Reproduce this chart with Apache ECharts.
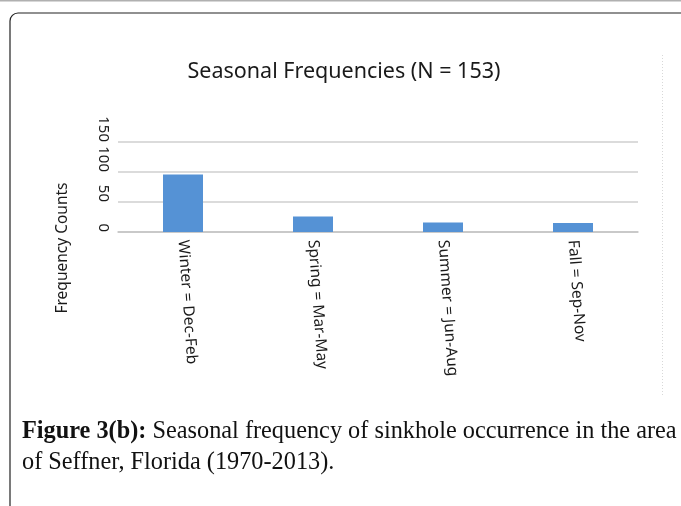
<!DOCTYPE html>
<html>
<head>
<meta charset="utf-8">
<script src="https://cdn.jsdelivr.net/npm/echarts@6/dist/echarts.min.js"></script>
<style>html,body{margin:0;padding:0;background:#fff;}#c{width:681px;height:506px;}</style>
</head>
<body>
<div id="c"></div>
<script>
const categories = ['Winter = Dec-Feb', 'Spring = Mar-May', 'Summer = Jun-Aug', 'Fall = Sep-Nov'];
const counts = [96, 26, 16, 15];
const yTicks = [0, 50, 100, 150];
const titleText = 'Seasonal Frequencies (N = 153)';
const yAxisTitle = 'Frequency Counts';
const captionBold = 'Figure 3(b):';
const captionLine1 = ' Seasonal frequency of sinkhole occurrence in the area';
const captionLine2 = 'of Seffner, Florida (1970-2013).';

const chart = echarts.init(document.getElementById('c'), null, {renderer: 'canvas'});
const sans = 'Noto Sans';
chart.setOption({
  animation: false,
  backgroundColor: '#ffffff',
  title: {
    text: titleText,
    left: 339, top: 56, textAlign: 'center',
    textStyle: {fontFamily: sans, fontSize: 21.5, fontWeight: 'normal', color: '#1a1a1a'}
  },
  grid: {left: 118, right: 43, top: 142, bottom: 274, containLabel: false},
  xAxis: {
    type: 'category',
    data: categories,
    axisLine: {show: true, lineStyle: {color: '#c4c4c4', width: 1.5}},
    axisTick: {show: false},
    axisLabel: {
      interval: 0, rotate: -86, margin: 8, align: 'left', verticalAlign: 'middle',
      fontFamily: sans, fontSize: 15.5, color: '#1a1a1a'
    }
  },
  yAxis: {
    type: 'value',
    min: yTicks[0], max: yTicks[yTicks.length - 1], interval: 50,
    axisLine: {show: false},
    axisTick: {show: false},
    splitLine: {lineStyle: {color: '#cfcfcf', width: 1.5}},
    axisLabel: {
      rotate: -90, margin: 15, align: 'right', verticalAlign: 'middle',
      fontFamily: sans, fontSize: 15, color: '#1a1a1a'
    }
  },
  series: [{
    type: 'bar',
    data: counts,
    barWidth: 40,
    itemStyle: {color: '#5592d5'}
  }],
  graphic: [
    {type: 'line', shape: {x1: 0, y1: 0.5, x2: 681, y2: 0.5}, style: {stroke: '#b0b0b0', lineWidth: 2}},
    {type: 'rect', shape: {x: 10, y: 13, width: 720, height: 560, r: 8}, style: {fill: 'none', stroke: '#222', lineWidth: 1.2}},
    {type: 'line', shape: {x1: 662.5, y1: 55, x2: 662.5, y2: 396}, style: {stroke: '#d8d8d8', lineWidth: 1, lineDash: [1, 2]}},
    {type: 'text', x: 63, y: 248, rotation: Math.PI / 2,
      style: {text: yAxisTitle, fontFamily: sans, fontSize: 15.5, fill: '#1a1a1a', align: 'center', verticalAlign: 'middle'}},
    {type: 'text', x: 22, y: 416,
      style: {text: '{b|' + captionBold + '}' + captionLine1 + '\n' + captionLine2,
        fontFamily: 'Liberation Serif', fontSize: 24.3, fill: '#111', lineHeight: 31,
        verticalAlign: 'top',
        rich: {b: {fontFamily: 'Liberation Serif', fontSize: 24.3, fontWeight: 'bold', fill: '#111', lineHeight: 31}}}}
  ]
});
</script>
</body>
</html>
